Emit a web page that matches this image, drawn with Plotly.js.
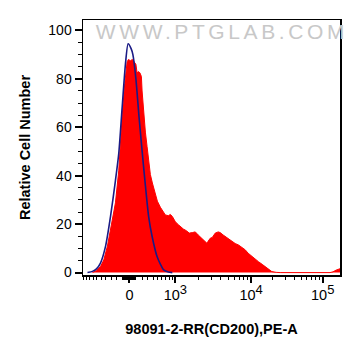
<!DOCTYPE html>
<html>
<head>
<meta charset="utf-8">
<script src="https://cdn.plot.ly/plotly-3.0.1.min.js"></script>
<style>
  html, body { margin: 0; padding: 0; background: #fff; }
  #chart { width: 361px; height: 356px; }
</style>
</head>
<body>
<div id="chart"></div>
<script>
// x positions are in display units of the biexponential axis (0 = value 0)
var sampleX = [-37, -33, -29, -25.7, -22, -19, -14, -10.7, -9, -7.3, -4.7, -2.3,
  -1, 1, 3, 5, 6.5, 7.7, 9, 10.5, 12, 12.7, 14.3, 16, 17.7, 19.3, 21, 23, 26, 28,
  31, 34, 36, 39, 41, 43, 46, 49, 51, 54, 57, 60, 63, 66, 69, 72.7, 75, 77.7, 79,
  81, 83, 86, 89, 91, 94, 96, 99, 102.7, 106, 109.3, 112, 116, 119, 122.7, 126,
  129.3, 133, 136, 139, 142.7, 147, 151, 201, 204, 207, 210, 211];
var sampleY = [0, 0.8, 2.5, 5.2, 11, 17.6, 28.8, 42, 55, 64.5, 78, 87,
  88, 87.5, 88, 87, 86, 82.5, 83, 82.5, 81, 75, 66, 58, 52, 45.5, 40.5, 37, 32, 29.5,
  27, 25, 23.8, 23.5, 24, 23.2, 21, 19.8, 19, 18, 17.3, 16.3, 16.5, 16.8, 15.5, 14.2, 13.3, 12.1, 13,
  14.2, 14.5, 16.3, 16.8, 16.5, 15.5, 14.9, 14, 12.8, 12, 11.4, 10.5, 9.4, 8, 6.6, 5.5,
  4.5, 3.4, 2.5, 1.5, 0.4, 0.1, 0, 0, 0.3, 1, 1.6, 1.6];

var controlX = [-42, -37, -33, -29, -24, -19, -14, -10.7, -7.3, -4, -1.3, 1.7, 3.5,
  6.5, 9.7, 13, 16, 19.3, 22.7, 27.7, 31, 34.3, 39, 43];
var controlY = [0, 0.5, 1.5, 3.9, 10.7, 23, 38, 49, 68, 86, 94.5, 92.5, 90,
  80, 64, 49, 36, 23, 15, 6.6, 3.5, 1.1, 0.2, 0];

var xTickVals = [0, 46, 122, 193.7];
var xTickText = ['0',
  '10<sup><span style="font-size:13px">3</span></sup>',
  '10<sup><span style="font-size:13px">4</span></sup>',
  '10<sup><span style="font-size:13px">5</span></sup>'];
var yTickVals = [0, 20, 40, 60, 80, 100];

// minor tick positions of the biexponential scale
function disp(v) {
  var a = Math.abs(v), s = v < 0 ? -1 : 1;
  if (a <= 1000) return s * 31 * Math.asinh(a / 477);
  var dec = Math.floor(Math.log10(a));
  var lo = xTickVals[dec - 2], hi = xTickVals[dec - 1];
  return s * (lo + (hi - lo) * (Math.log10(a) - dec));
}
var minorVals = [];
[-1000,-900,-800,-700,-600,-500,-400,-300,-200,-100,-90,-80,-70,-60,-50,-40,-30,-20,-10,
 10,20,30,40,50,60,70,80,90,100,200,300,400,500,600,700,800,900,
 2000,3000,4000,5000,6000,7000,8000,9000,20000,30000,40000,50000,60000,70000,80000,90000]
 .forEach(function (v) { minorVals.push(disp(v)); });

var font = 'Liberation Sans, Arial, sans-serif';

var traces = [
  { x: sampleX, y: sampleY, type: 'scatter', mode: 'lines', fill: 'tozeroy',
    fillcolor: '#ff0000', line: { color: '#ff0000', width: 1 }, hoverinfo: 'skip' },
  { x: controlX, y: controlY, type: 'scatter', mode: 'lines', line: { color: '#1a1a85', width: 1.6, shape: 'spline', smoothing: 0.6 },
    hoverinfo: 'skip' }
];

var layout = {
  width: 361, height: 356,
  margin: { l: 83, r: 21, t: 20, b: 81 },
  paper_bgcolor: '#ffffff', plot_bgcolor: '#ffffff',
  showlegend: false,
  font: { family: font, size: 14, color: '#000' },
  xaxis: {
    range: [-46.5, 211], tickmode: 'array', tickvals: xTickVals, ticktext: xTickText,
    ticks: 'outside', ticklen: 6, tickwidth: 2, tickcolor: '#000',
    showline: true, linewidth: 1.5, linecolor: '#000', mirror: true,
    showgrid: false, zeroline: false,
    minor: { tickmode: 'array', tickvals: minorVals, ticks: 'outside', ticklen: 3, tickwidth: 1, tickcolor: '#000', showgrid: false },
    tickfont: { family: font, size: 14.5, color: '#000' },
    title: { text: '<b>98091-2-RR(CD200),PE-A</b>', font: { family: font, size: 14.5, color: '#000' }, standoff: 22 }
  },
  yaxis: {
    range: [-1, 104.3], tickmode: 'array', tickvals: yTickVals,
    ticks: 'outside', ticklen: 7, tickwidth: 2, tickcolor: '#000',
    showline: true, linewidth: 1.5, linecolor: '#000', mirror: true,
    showgrid: false, zeroline: false,
    minor: { dtick: 5, tick0: 0, ticks: 'outside', ticklen: 4, tickwidth: 1, tickcolor: '#000', showgrid: false },
    tickfont: { family: font, size: 14, color: '#000' },
    title: { text: '<b>Relative Cell Number</b>', font: { family: font, size: 14.5, color: '#000' }, standoff: 14 }
  },
  annotations: [{
    text: 'WWW.PTGLAB.COM', xref: 'paper', yref: 'paper',
    x: (222 - 83) / 257, y: 1 - (31.5 - 20) / 255, xanchor: 'center', yanchor: 'middle',
    showarrow: false, font: { family: font, size: 21, color: '#c8c8c8' }
  }]
};

Plotly.newPlot('chart', traces, layout, { displayModeBar: false, staticPlot: true });
</script>
<style>.annotation-text { letter-spacing: 3.6px; }</style>
</body>
</html>
